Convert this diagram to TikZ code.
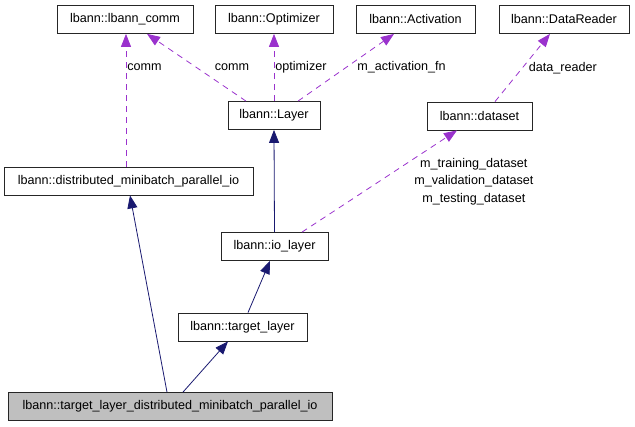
\documentclass[tikz,border=0pt]{standalone}
\usepackage{fontspec}
\setmainfont{Liberation Sans}
\usetikzlibrary{arrows.meta}
\definecolor{inh}{HTML}{191970}
\definecolor{use}{HTML}{9A32CD}
\definecolor{cur}{HTML}{BFBFBF}

\begin{document}
\begin{tikzpicture}[x=1pt, y=-1pt, font=\fontsize{12.6}{15}\selectfont, line width=0.8pt,
  box/.style={draw=black!85, fill=white, inner sep=0pt, minimum height=28pt},
  isa/.style={draw=inh, -{Triangle[length=13pt,width=10pt]}},
  uses/.style={draw=use, dash pattern=on 6pt off 5pt, -{Triangle[length=13pt,width=10pt]}},
  lbl/.style={inner sep=1pt, align=center}]
\useasboundingbox (0,0) rectangle (635,427);
\node[box, minimum width=136pt] (comm) at (125,19.5) {lbann::lbann\_comm};
\node[box, minimum width=118pt] (optim) at (274,19.5) {lbann::Optimizer};
\node[box, minimum width=119pt] (activ) at (415.5,19.5) {lbann::Activation};
\node[box, minimum width=130pt] (reader) at (564,19.5) {lbann::DataReader};
\node[box, minimum width=92pt] (layer) at (274,115.5) {lbann::Layer};
\node[box, minimum width=105pt] (dataset) at (479.5,116) {lbann::dataset};
\node[box, minimum width=249pt] (dmpio) at (128.5,181) {lbann::distributed\_minibatch\_parallel\_io};
\node[box, minimum width=107pt] (iolayer) at (274.5,246.5) {lbann::io\_layer};
\node[box, minimum width=129pt] (target) at (242.5,327) {lbann::target\_layer};
\node[box, fill=cur, minimum width=324pt] (tdmpio) at (170,406.5) {lbann::target\_layer\_distributed\_minibatch\_parallel\_io};
\draw[uses] ([xshift=-2.5pt]dmpio.north)--node[lbl, pos=0.75, anchor=west]{comm}([xshift=1pt]comm.south);
\draw[uses] ([xshift=-28pt]layer.north)--node[lbl, pos=0.5, anchor=west, xshift=17pt]{comm}([xshift=22pt]comm.south);
\draw[uses] (layer.north)--node[lbl, pos=0.5, anchor=west]{optimizer}(optim.south);
\draw[uses] ([xshift=24pt]layer.north)--node[lbl, pos=0.5, anchor=west, xshift=10pt]{m\_activation\_fn}([xshift=-21.5pt]activ.south);
\draw[uses] ([xshift=15.5pt]dataset.north)--node[lbl, pos=0.5, anchor=west, xshift=5pt]{data\_reader}([xshift=-14pt]reader.south);
\draw[uses] ([xshift=27.5pt]iolayer.north)--node[lbl, pos=0.515, xshift=92pt, yshift=-2pt, font=\fontsize{12.6}{17.5}\selectfont]{m\_training\_dataset\\m\_validation\_dataset\\m\_testing\_dataset}([xshift=-22.5pt]dataset.south);
\draw[isa] (iolayer.north)--(layer.south);
\draw[isa] ([xshift=5.5pt]target.north)--([xshift=-4.5pt]iolayer.south);
\draw[isa] ([xshift=-3pt]tdmpio.north)--([xshift=1.5pt]dmpio.south);
\draw[isa] ([xshift=13pt]tdmpio.north)--([xshift=-14.5pt]target.south);
\end{tikzpicture}
\end{document}
